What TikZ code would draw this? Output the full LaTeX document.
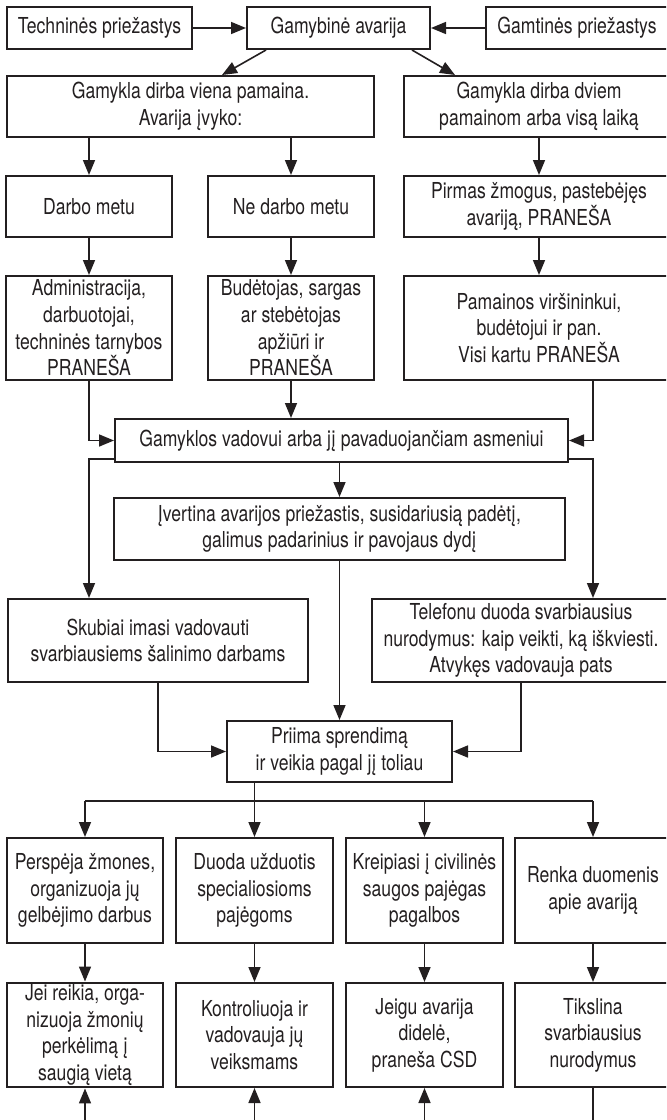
\documentclass[tikz,border=0pt]{standalone}
\usepackage{fontspec}
\setmainfont{TeX Gyre Heros}[FakeStretch=0.8]
\usepackage{xcolor}
\usepackage{tikz}
\usetikzlibrary{arrows.meta,positioning,calc}
\definecolor{avink}{HTML}{231F20}
\tikzset{
    flow/.style={rectangle, draw=avink, line width=1pt, text=avink,
        inner sep=1pt, align=center,
        font=\fontsize{11}{13.3}\selectfont},
    sz/.style 2 args={minimum width=#1*0.5pt, minimum height=#2*0.5pt},
    flowarrow/.style={->, >={Triangle[length=7.5pt,width=6pt]},
        line width=0.8pt, draw=avink},
    flowline/.style={line width=0.8pt, draw=avink},
}
\begin{document}
\begin{tikzpicture}[x=0.5pt, y=-0.5pt]

    % ── Frame (right and bottom edges cut as in the page) ────────────────
    \path[use as bounding box, clip] (0,0) rectangle (666,1120);

    % ── Causes ─────────────────────────────────────────────────────────────
    \node[flow, sz={185}{42}] (tech)  at (99.5,28)  {Techninės priežastys};
    \node[flow, sz={183}{42}] (gamyb) at (338.5,28) {Gamybinė avarija};
    \node[flow, sz={182}{42}] (gamt)  at (577,28)   {Gamtinės priežastys};

    % ── Shifts ─────────────────────────────────────────────────────────────
    \node[flow, sz={367}{61}] (viena) at (190.5,106.5)
        {Gamykla dirba viena pamaina.\\Avarija įvyko:};
    \node[flow, sz={270}{61}] (dviem) at (539,106.5)
        {Gamykla dirba dviem\\pamainom arba visą laiką};

    \node[flow, sz={166}{61}] (darbo)   at (89,206.5)  {Darbo metu};
    \node[flow, sz={166}{61}] (nedarbo) at (291,206.5) {Ne darbo metu};
    \node[flow, sz={270}{61}] (pirmas)  at (539,206.5)
        {Pirmas žmogus, pastebėjęs\\avariją, PRANEŠA};

    % ── Who reports ────────────────────────────────────────────────────────
    \node[flow, sz={166}{104}] (admin) at (89,328)
        {Administracija,\\darbuotojai,\\techninės tarnybos\\PRANEŠA};
    \node[flow, sz={166}{104}] (budet) at (291,328)
        {Budėtojas, sargas\\ar stebėtojas\\apžiūri ir\\PRANEŠA};
    \node[flow, sz={270}{104}] (pamain) at (539,328)
        {Pamainos viršininkui,\\budėtojui ir pan.\\Visi kartu PRANEŠA};

    % ── Head of plant ──────────────────────────────────────────────────────
    \node[flow, sz={453}{43}] (vadov) at (341.5,440.5)
        {Gamyklos vadovui arba jį pavaduojančiam asmeniui};
    \node[flow, sz={451}{62}] (ivert) at (339.5,529)
        {Įvertina avarijos priežastis, susidariusią padėtį,\\galimus padarinius ir pavojaus dydį};

    \node[flow, sz={300}{83}] (skub) at (158,640.5)
        {Skubiai imasi vadovauti\\svarbiausiems šalinimo darbams};
    \node[flow, sz={298}{83}] (telef) at (521,640.5)
        {Telefonu duoda svarbiausius\\nurodymus: kaip veikti, ką iškviesti.\\Atvykęs vadovauja pats};

    \node[flow, sz={225}{61}] (priima) at (339.5,751.5)
        {Priima sprendimą\\ir veikia pagal jį toliau};

    % ── Actions ────────────────────────────────────────────────────────────
    \node[flow, sz={156}{105}] (persp) at (85,890.5)
        {Perspėja žmones,\\organizuoja jų\\gelbėjimo darbus};
    \node[flow, sz={157}{105}] (duoda) at (254.5,890.5)
        {Duoda užduotis\\specialiosioms\\pajėgoms};
    \node[flow, sz={157}{105}] (kreip) at (424.5,890.5)
        {Kreipiasi į civilinės\\saugos pajėgas\\pagalbos};
    \node[flow, sz={156}{105}] (renka) at (593,890.5)
        {Renka duomenis\\apie avariją};

    \node[flow, sz={156}{104}] (jei) at (85,1035)
        {Jei reikia, orga-\\nizuoja žmonių\\perkėlimą į\\saugią vietą};
    \node[flow, sz={157}{104}] (kontr) at (254.5,1035)
        {Kontroliuoja ir\\vadovauja jų\\veiksmams};
    \node[flow, sz={157}{104}] (jeigu) at (424.5,1035)
        {Jeigu avarija\\didelė,\\praneša CSD};
    \node[flow, sz={156}{104}] (tiksl) at (593,1035)
        {Tikslina\\svarbiausius\\nurodymus};

    % ── Helper points ──────────────────────────────────────────────────────
    \coordinate (rline) at ($(pamain.south)+(54,0)$);
    \coordinate (bus)   at (0,801);
    \coordinate (edge)  at (0,1130);

    % ── Arrows ─────────────────────────────────────────────────────────────
    \draw[flowarrow] (tech) -- (gamyb);
    \draw[flowarrow] (gamt) -- (gamyb);
    \draw[flowarrow] ($(gamyb.south west)+(20,0)$) -- ($(viena.north)+(31.5,0)$);
    \draw[flowarrow] ($(gamyb.south east)+(-19,0)$) -- ($(dviem.north)+(-84,0)$);

    \draw[flowarrow] (viena.south -| darbo) -- (darbo);
    \draw[flowarrow] (viena.south -| nedarbo) -- (nedarbo);
    \draw[flowarrow] (dviem) -- (pirmas);
    \draw[flowarrow] (darbo) -- (admin);
    \draw[flowarrow] (nedarbo) -- (budet);
    \draw[flowarrow] (pirmas) -- (pamain);

    \draw[flowarrow] (admin.south) |- (vadov.west);
    \draw[flowarrow] (budet.south) -- (budet.south |- vadov.north);
    \draw[flowarrow] (rline) |- (vadov.east);

    \draw[flowarrow] (vadov.south -| ivert) -- (ivert);
    \draw[flowarrow] ($(vadov.south west)+(0,-4)$) -| (skub.north -| admin);
    \draw[flowarrow] ($(vadov.south east)+(0,-4)$) -| (telef.north -| rline);

    \draw[flowarrow] (ivert.south) -- (ivert.south |- priima.north);
    \draw[flowarrow] (skub.south) |- (priima.west);
    \draw[flowarrow] (telef.south) |- (priima.east);

    \draw[flowarrow] (priima.south -| duoda) -- (duoda);
    \draw[flowline]  (bus -| persp) -- (bus -| renka);
    \draw[flowarrow] (bus -| persp) -- (persp);
    \draw[flowarrow] (bus -| kreip) -- (kreip);
    \draw[flowarrow] (bus -| renka) -- (renka);

    \draw[flowarrow] (persp) -- (jei);
    \draw[flowarrow] (duoda) -- (kontr);
    \draw[flowarrow] (kreip) -- (jeigu);
    \draw[flowarrow] (renka) -- (tiksl);

    % ── Continuations below the page ───────────────────────────────────────
    \draw[flowarrow] (edge -| jei) -- (jei);
    \draw[flowarrow] (edge -| kontr) -- (kontr);
    \draw[flowarrow] (edge -| jeigu) -- (jeigu);
    \draw[flowline]  (tiksl) -- (edge -| tiksl);

\end{tikzpicture}
\end{document}
